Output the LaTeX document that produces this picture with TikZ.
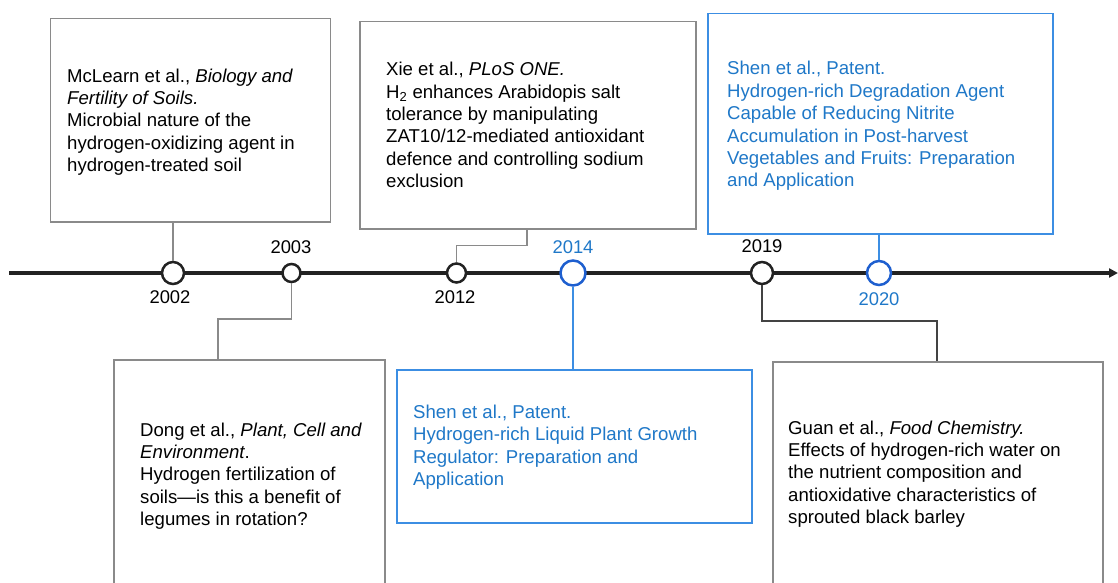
\documentclass[tikz,border=0pt]{standalone}
\usepackage{fontspec}
\setmainfont{Liberation Sans}
\usetikzlibrary{arrows.meta}
\definecolor{tblue}{HTML}{1F78C8}
\definecolor{bblue}{HTML}{3C8EE3}
\definecolor{cblue}{HTML}{1E5FCF}
\definecolor{gline}{HTML}{8A8A8A}
\definecolor{axisc}{HTML}{222222}
\begin{document}
\begin{tikzpicture}[x=1pt,y=-1pt,
  gbox/.style={draw=gline, line width=1.5pt, fill=white, inner sep=0pt, anchor=north west},
  bbox/.style={draw=bblue, line width=1.5pt, fill=white, inner sep=0pt, anchor=north west},
  txt/.style={anchor=west, align=left, inner sep=0pt, font=\fontsize{18.6}{22.4}\selectfont},
  btxt/.style={txt, text=tblue},
  yr/.style={inner sep=0pt, font=\fontsize{18.4}{22}\selectfont},
  gdot/.style={circle, draw=axisc, line width=2.5pt, fill=white, inner sep=0pt},
  bdot/.style={circle, draw=cblue, line width=2.5pt, fill=white, inner sep=0pt},
  gcon/.style={draw=gline, line width=1.3pt},
  dcon/.style={draw=axisc!85, line width=1.3pt},
  bcon/.style={draw=bblue, line width=1.3pt},
  axisline/.style={draw=axisc, line width=4pt, -{Triangle[length=9pt,width=9pt]}},
]
\useasboundingbox (0,0) rectangle (1118,583);

% boxes
\node[gbox, minimum width=280pt, minimum height=203pt] (b1) at (49.5,18) {};
\node[gbox, minimum width=336pt, minimum height=207pt] (b2) at (359,21) {};
\node[bbox, minimum width=345pt, minimum height=220pt] (b3) at (707,13) {};
\node[gbox, minimum width=271pt, minimum height=230pt] (b4) at (113,359) {};
\node[bbox, minimum width=355pt, minimum height=153pt] (b5) at (396,369) {};
\node[gbox, minimum width=330pt, minimum height=230pt] (b6) at (772,361) {};

% texts
\node[txt] (t1) at (67,122) {McLearn et al., \textit{Biology and}\\ \textit{Fertility of Soils.}\\ Microbial nature of the\\ hydrogen-oxidizing agent in\\ hydrogen-treated soil};
\node[txt] (t2) at (386,125) {Xie et al., \textit{PLoS ONE.}\\ H\textsubscript{2} enhances Arabidopis salt\\ tolerance by manipulating\\ ZAT10/12-mediated antioxidant\\ defence and controlling sodium\\ exclusion};
\node[btxt] (t3) at (727,126) {Shen et al., Patent.\\ Hydrogen-rich Degradation Agent\\ Capable of Reducing Nitrite\\ Accumulation in Post-harvest\\ Vegetables and Fruits: Preparation\\ and Application};
\node[txt] (t4) at (140,476) {Dong et al., \textit{Plant, Cell and}\\ \textit{Environment}.\\ Hydrogen fertilization of\\ soils---is this a benefit of\\ legumes in rotation?};
\node[btxt] (t5) at (413,447) {Shen et al., Patent.\\ Hydrogen-rich Liquid Plant Growth\\ Regulator: Preparation and\\ Application};
\node[txt] (t6) at (788,474) {Guan et al., \textit{Food Chemistry.}\\ Effects of hydrogen-rich water on\\ the nutrient composition and\\ antioxidative characteristics of\\ sprouted black barley};

% axis
\coordinate (ts) at (9,273);
\coordinate (te) at (1118,273);
\draw[axisline] (ts) -- (te);

% dots
\node[gdot, minimum size=22pt] (d2002) at (173,273) {};
\node[gdot, minimum size=18pt] (d2003) at (291.5,273) {};
\node[gdot, minimum size=19pt] (d2012) at (456.5,273) {};
\node[bdot, minimum size=25pt] (d2014) at (573,273) {};
\node[gdot, minimum size=22pt] (d2019) at (762,273) {};
\node[bdot, minimum size=24pt] (d2020) at (879,273) {};

% connectors
\coordinate (k2) at (527,245.5);
\coordinate (k4) at (218,319);
\coordinate (k6) at (937,321);
\draw[gcon] (d2002.north |- b1.south) -- (d2002.north);
\draw[gcon] (k2 |- b2.south) -- (k2) -- (k2 -| d2012) -- (d2012.north);
\draw[bcon] (d2020.north |- b3.south) -- (d2020.north);
\draw[gcon] (d2003.south) -- (d2003 |- k4) -- (k4) -- (k4 |- b4.north);
\draw[bcon] (d2014.south) -- (d2014 |- b5.north);
\draw[dcon] (d2019.south) -- (d2019 |- k6) -- (k6) -- (k6 |- b6.north);

% year labels
\node[yr] (y2002) at (170,297) {2002};
\node[yr] (y2003) at (291,247) {2003};
\node[yr] (y2012) at (455,297) {2012};
\node[yr, text=tblue] (y2014) at (573,247) {2014};
\node[yr] (y2019) at (762,246) {2019};
\node[yr, text=tblue] (y2020) at (879,299) {2020};
\end{tikzpicture}
\end{document}
